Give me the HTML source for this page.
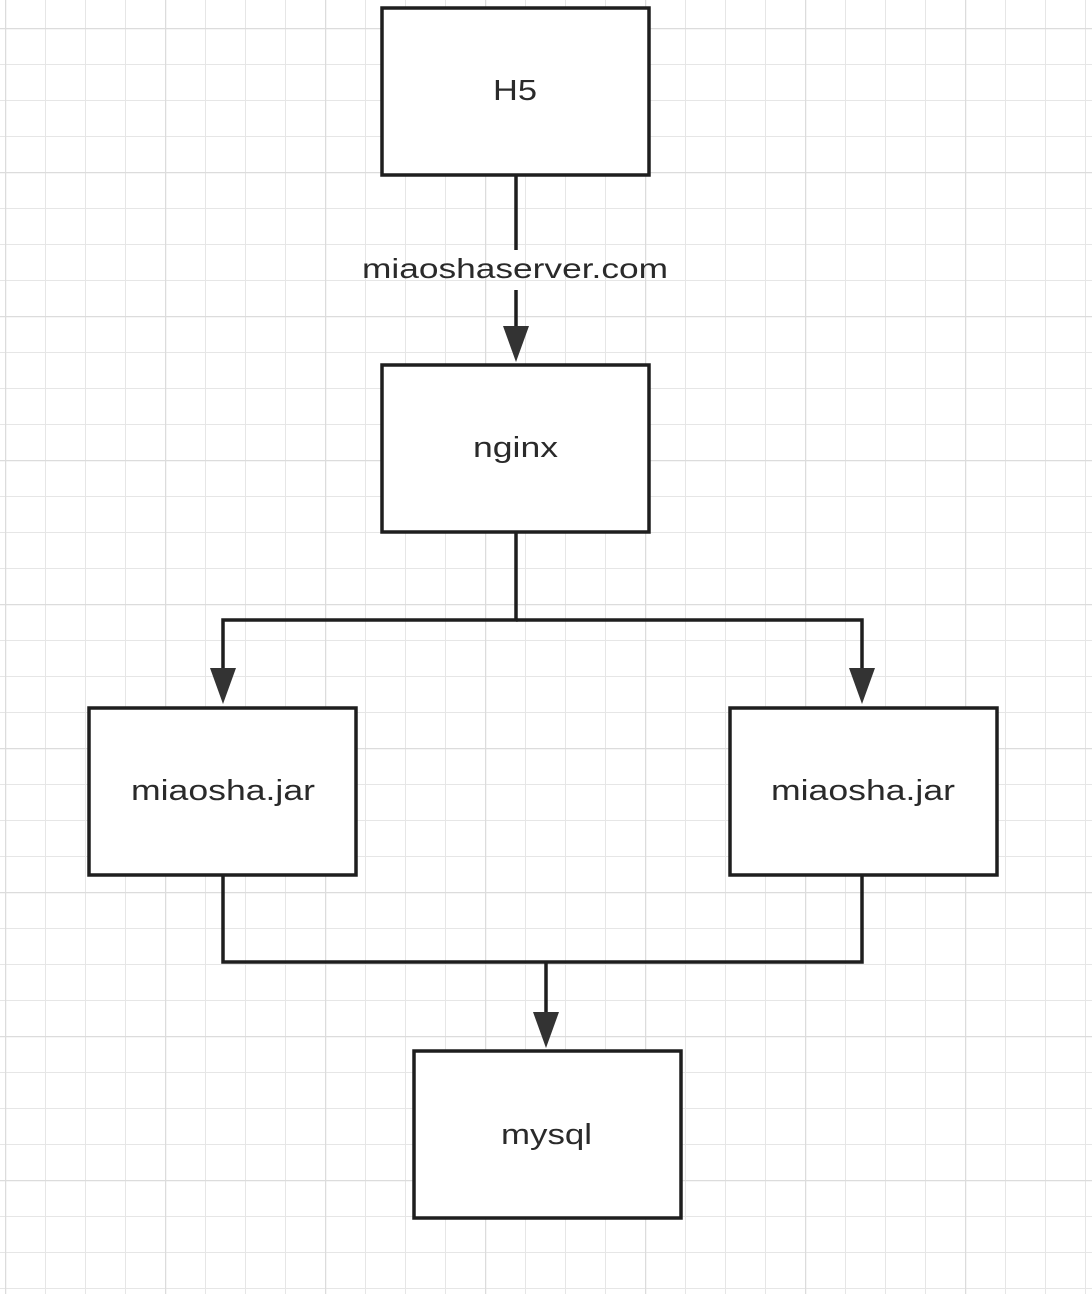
<!DOCTYPE html>
<html><head><meta charset="utf-8"><style>
html,body{margin:0;padding:0;background:#fff;}
svg{display:block;}
text{font-family:"Liberation Sans",sans-serif;fill:#2a2a2a;}
</style></head><body>
<svg width="1092" height="1294" viewBox="0 0 1092 1294" xmlns="http://www.w3.org/2000/svg">
<defs>
<pattern id="g" x="5" y="28" width="40" height="36" patternUnits="userSpaceOnUse">
<path d="M0 0V36M0 0H40" stroke="#e6e6e6" stroke-width="2" fill="none"/>
</pattern>
<pattern id="G" x="5" y="28" width="160" height="144" patternUnits="userSpaceOnUse">
<path d="M0 0V144M0 0H160" stroke="#dcdcdc" stroke-width="2.5" fill="none"/>
</pattern>
</defs>
<rect width="1092" height="1294" fill="#fff"/>
<rect width="1092" height="1294" fill="url(#g)"/>
<rect width="1092" height="1294" fill="url(#G)"/>

<g fill="none" stroke="#1e1e1e" stroke-width="3.5">
<line x1="516" y1="175" x2="516" y2="250"/>
<line x1="516" y1="290" x2="516" y2="330"/>
<polyline points="516,532 516,620 223,620 223,670"/>
<polyline points="516,620 862,620 862,670"/>
<polyline points="223,875 223,962 862,962 862,875"/>
<line x1="546" y1="962" x2="546" y2="1014"/>
</g>
<g fill="#333">
<polygon points="503,326 529,326 516,362"/>
<polygon points="210,668 236,668 223,704"/>
<polygon points="849,668 875,668 862,704"/>
<polygon points="533,1012 559,1012 546,1048"/>
</g>

<g fill="#fff" stroke="#1e1e1e" stroke-width="3.5">
<rect x="382" y="8" width="267" height="167"/>
<rect x="382" y="365" width="267" height="167"/>
<rect x="89" y="708" width="267" height="167"/>
<rect x="730" y="708" width="267" height="167"/>
<rect x="414" y="1051" width="267" height="167"/>
</g>

<g font-size="29">
<text x="493" y="100" textLength="44" lengthAdjust="spacingAndGlyphs">H5</text>
<text x="473" y="457" textLength="85" lengthAdjust="spacingAndGlyphs">nginx</text>
<text x="131" y="800" textLength="184" lengthAdjust="spacingAndGlyphs">miaosha.jar</text>
<text x="771" y="800" textLength="184" lengthAdjust="spacingAndGlyphs">miaosha.jar</text>
<text x="501" y="1144" textLength="91" lengthAdjust="spacingAndGlyphs">mysql</text>
</g>
<text x="362" y="278" font-size="28" textLength="306" lengthAdjust="spacingAndGlyphs">miaoshaserver.com</text>
</svg>
</body></html>
